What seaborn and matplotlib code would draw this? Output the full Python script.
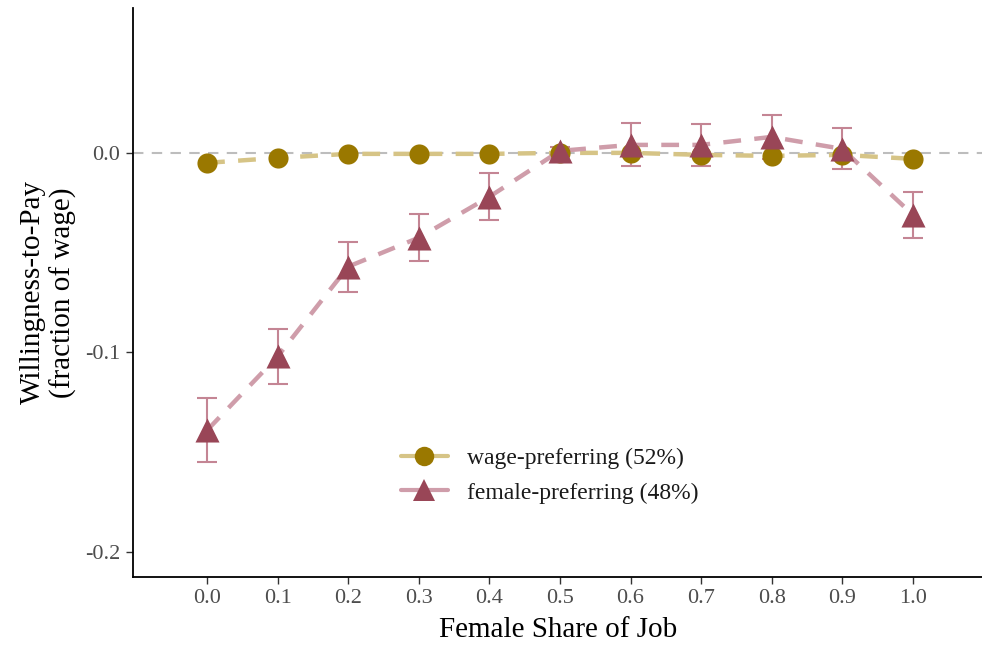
import numpy as np
import pandas as pd
import matplotlib
matplotlib.use("Agg")
import matplotlib.pyplot as plt
from matplotlib.lines import Line2D
import seaborn as sns

female_share = [0.0, 0.1, 0.2, 0.3, 0.4, 0.5, 0.6, 0.7, 0.8, 0.9, 1.0]
wage_pref = [-0.005, -0.0025, -0.0005, -0.0005, -0.0005, 0.0, 0.0, -0.001, -0.0015, -0.001, -0.003]
female_pref = [-0.139, -0.102, -0.057, -0.0425, -0.022, 0.001, 0.004, 0.004, 0.008, 0.002, -0.031]
female_se = [0.016, 0.0137, 0.0125, 0.0118, 0.0117, 0.002, 0.0108, 0.0105, 0.011, 0.0103, 0.0115]
x_ticks = [0.0, 0.1, 0.2, 0.3, 0.4, 0.5, 0.6, 0.7, 0.8, 0.9, 1.0]
y_ticks = [0.0, -0.1, -0.2]
labels = ["wage-preferring (52%)", "female-preferring (48%)"]

gold_dark = "#9a7800"
gold_light = "#d6c486"
rose_dark = "#994657"
rose_light = "#cf9daa"
rose_err = "#c48594"

sns.set_theme(style="white")
plt.rcParams["font.family"] = ["Liberation Serif", "DejaVu Serif"]

df_w = pd.DataFrame({"x": female_share, "y": wage_pref})
df_f = pd.DataFrame({"x": female_share, "y": female_pref, "se": female_se})

fig = plt.figure(figsize=(9.82, 6.49), dpi=100)
ax = fig.add_axes([0.1354, 0.111, 0.866, 0.877])

ax.axhline(0, color="#bdbdbd", lw=1.5, ls=(0, (5, 4)), zorder=1)

sns.lineplot(data=df_w, x="x", y="y", ax=ax, color=gold_light, lw=3.2,
             linestyle=(0, (4, 3)), zorder=2)
sns.lineplot(data=df_f, x="x", y="y", ax=ax, color=rose_light, lw=3.2,
             linestyle=(0, (4, 3)), zorder=2)

ax.errorbar(df_f["x"], df_f["y"], yerr=df_f["se"], fmt="none", ecolor=rose_err,
            elinewidth=1.5, capsize=7, capthick=1.5, zorder=3)

sns.scatterplot(data=df_w, x="x", y="y", ax=ax, color=gold_dark, marker="o",
                s=210, linewidth=0, zorder=4)
sns.scatterplot(data=df_f, x="x", y="y", ax=ax, color=rose_dark, marker="^",
                s=300, linewidth=0, zorder=4)

ax.set_xlim(-0.105, 1.1)
ax.set_ylim(-0.2125, 0.0727)
ax.set_xticks(x_ticks)
ax.set_xticklabels([f"{v:.1f}" for v in x_ticks])
ax.set_yticks(y_ticks)
ax.set_yticklabels([f"{v:.1f}" for v in y_ticks])
ax.tick_params(axis="both", which="both", length=5, width=1, color="#333333",
               labelsize=16, labelcolor="#4d4d4d", direction="out",
               bottom=True, left=True, pad=4)
for s in ["top", "right"]:
    ax.spines[s].set_visible(False)
for s in ["left", "bottom"]:
    ax.spines[s].set_color("black")
    ax.spines[s].set_linewidth(1.3)

ax.set_xlabel("Female Share of Job", fontsize=21, color="black", labelpad=6)
ax.set_ylabel("Willingness-to-Pay\n(fraction of wage)", fontsize=21, color="black",
              labelpad=6, linespacing=1.15)

handles = [
    Line2D([0], [0], color=gold_light, lw=3, marker="o", markersize=14,
           markerfacecolor=gold_dark, markeredgewidth=0),
    Line2D([0], [0], color=rose_light, lw=3, marker="^", markersize=16,
           markerfacecolor=rose_dark, markeredgewidth=0),
]
leg = ax.legend(handles, labels, loc="center left", bbox_to_anchor=(0.29, 0.178),
                frameon=False, fontsize=17, handlelength=2.0, labelspacing=0.55,
                handletextpad=0.8)
for t in leg.get_texts():
    t.set_color("#1a1a1a")

fig.savefig("out.png", dpi=100)
